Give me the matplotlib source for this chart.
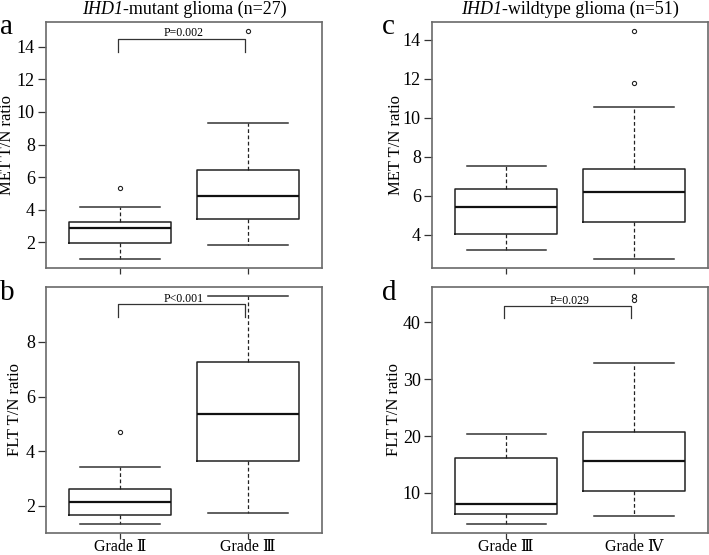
import matplotlib
matplotlib.use('Agg')
import matplotlib.pyplot as plt

plt.rcParams['font.family'] = ['Liberation Serif', 'DejaVu Serif']

# five-number summaries: low whisker, Q1, median, Q3, high whisker
grades_mut = ['Grade Ⅱ', 'Grade Ⅲ']
grades_wt = ['Grade Ⅲ', 'Grade Ⅳ']

met_mut = [[0.98, 1.94, 2.85, 3.26, 4.14], [1.85, 3.44, 4.83, 6.45, 9.33]]
met_mut_out = [[5.33], [14.96]]
flt_mut = [[1.34, 1.68, 2.13, 2.63, 3.42], [1.74, 3.64, 5.36, 7.25, 9.68]]
flt_mut_out = [[4.70], []]
met_wt = [[3.20, 4.03, 5.40, 6.32, 7.52], [2.76, 4.63, 6.17, 7.38, 10.54]]
met_wt_out = [[], [11.77, 14.43]]
flt_wt = [[4.57, 6.32, 8.07, 16.08, 20.40], [6.04, 10.35, 15.67, 20.68, 32.85]]
flt_wt_out = [[], [44.0, 44.6]]

p_a = 'P=0.002'
p_b = 'P<0.001'
p_d = 'P=0.029'

W, H = 709, 555
fig = plt.figure(figsize=(W/100, H/100), dpi=100)

def box_ax(l, t, r, b):
    return fig.add_axes([l/W, 1 - b/H, (r - l)/W, (b - t)/H])

def draw(ax, summ, outl, yticks, ylabel, labx, xlabels=None):
    stats = []
    for s, o in zip(summ, outl):
        stats.append(dict(whislo=s[0], q1=s[1], med=s[2], q3=s[3], whishi=s[4], fliers=o))
    ax.bxp(stats, positions=[1, 2], widths=0.8, showfliers=True,
           boxprops=dict(color='#222222', lw=1.1),
           medianprops=dict(color='#111111', lw=1.6),
           whiskerprops=dict(color='#222222', lw=0.9, ls=(0, (3, 2))),
           capprops=dict(color='#333333', lw=1.1),
           capwidths=0.62,
           flierprops=dict(marker='o', ms=3, mfc='none', mec='#222222', mew=0.8))
    vals = [v for s in summ for v in s] + [v for o in outl for v in o]
    lo, hi = min(vals), max(vals)
    ext = 0.04 * (hi - lo)
    ax.set_ylim(lo - ext, hi + ext)
    ax.set_xlim(0.42, 2.58)
    ax.set_yticks(yticks)
    ax.set_ylabel(ylabel, fontsize=12)
    ax.yaxis.set_label_coords(labx, 0.5)
    ax.set_xticks([1, 2])
    if xlabels:
        ax.set_xticklabels(xlabels, fontsize=11.5)
    else:
        ax.set_xticklabels(['', ''])
    ax.tick_params(axis='y', length=6, width=0.9, color='#333333', labelsize=13, pad=2)
    ax.tick_params(axis='x', length=4, width=0.9, color='#333333', pad=0)
    for sp in ax.spines.values():
        sp.set_color('#6a6a6a')
        sp.set_linewidth(1.2)

def bracket(ax, y_bar, y_end, y_txt, txt):
    ax.plot([0.98, 0.98, 1.98, 1.98], [y_end, y_bar, y_bar, y_end], color='#333333', lw=0.9)
    ax.text(1.5, y_txt, txt, ha='center', va='center', fontsize=8.5)

def title(ax, gene, rest):
    t1 = ax.text(0.5, 1.0, gene, transform=ax.transAxes, fontsize=13, style='italic',
                 ha='right', va='bottom')
    fig.canvas.draw()
    bb = t1.get_window_extent()
    t2 = ax.annotate(rest, xy=(1, 0), xycoords=t1, fontsize=13, ha='left', va='bottom')
    fig.canvas.draw()
    w = bb.width + t2.get_window_extent().width
    # shift both so the joined title is centred over the axes
    dx = (bb.width - w / 2) / ax.bbox.width
    t1.set_position((0.5 + dx, 1.0 + 4 / ax.bbox.height))

ax_a = box_ax(46, 22, 322, 268)
draw(ax_a, met_mut, met_mut_out, range(2, 15, 2), 'MET T/N ratio', -0.112)
bracket(ax_a, 14.45, 13.7, 14.85, p_a)
title(ax_a, 'IHD1', '-mutant glioma (n=27)')

ax_b = box_ax(46, 287, 322, 533)
draw(ax_b, flt_mut, flt_mut_out, [2, 4, 6, 8], 'FLT T/N ratio', -0.085, grades_mut)
bracket(ax_b, 9.38, 8.93, 9.56, p_b)

ax_c = box_ax(432, 22, 708, 268)
draw(ax_c, met_wt, met_wt_out, range(4, 15, 2), 'MET T/N ratio', -0.1)
title(ax_c, 'IHD1', '-wildtype glioma (n=51)')

ax_d = box_ax(432, 287, 708, 533)
draw(ax_d, flt_wt, flt_wt_out, [10, 20, 30, 40], 'FLT T/N ratio', -0.109, grades_wt)
bracket(ax_d, 42.8, 40.75, 43.8, p_d)

for lab, x, y in [('a', 0, 27), ('b', 0, 293), ('c', 382, 27), ('d', 382, 293)]:
    fig.text(x/W, 1 - y/H, lab, fontsize=21, ha='left', va='center')

fig.savefig('out.png', dpi=100)
